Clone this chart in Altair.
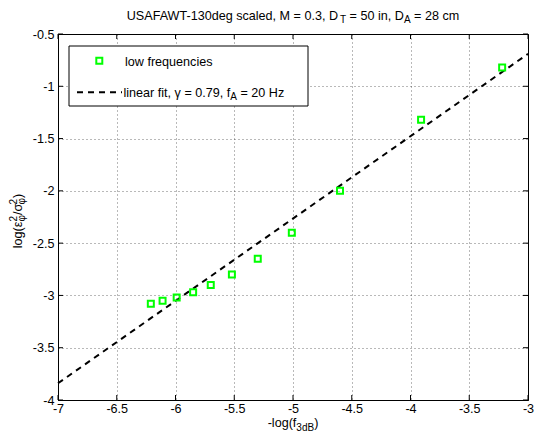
import altair as alt
import pandas as pd

# ---------------- data ----------------
x_vals = [-6.21, -6.11, -5.99, -5.85, -5.70, -5.52, -5.30, -5.01, -4.60, -3.91, -3.22]
y_vals = [-3.08, -3.05, -3.02, -2.97, -2.90, -2.80, -2.65, -2.40, -2.00, -1.32, -0.82]
fit_x = [-7.0, -3.0]
fit_y = [-3.84, -0.69]
x_ticks = [-7, -6.5, -6, -5.5, -5, -4.5, -4, -3.5, -3]
y_ticks = [-4, -3.5, -3, -2.5, -2, -1.5, -1, -0.5]

# ---------------- layout ----------------
W, H = 470, 366
LEFT, TOP = 58, 34
FONT = "Liberation Sans"
FS = 12.6
SUB = 10
TICK = 5

# Arial / Liberation Sans advance widths (per 1000 em)
CW = {' ': 278, '-': 333, ',': 278, '.': 278, '=': 584, '(': 333, ')': 333, '/': 278,
      'A': 667, 'B': 667, 'D': 722, 'F': 611, 'H': 722, 'M': 833, 'S': 667, 'T': 611,
      'U': 722, 'W': 944, 'a': 556, 'c': 500, 'd': 556, 'e': 556, 'f': 278, 'g': 556,
      'i': 222, 'l': 222, 'm': 833, 'n': 556, 'o': 556, 'q': 556, 'r': 333, 's': 500,
      't': 278, 'u': 556, 'w': 722, 'z': 500, 'y': 500,
      'γ': 500, 'ε': 450, 'σ': 570, 'φ': 650}
for d in "0123456789":
    CW[d] = 556

pts = pd.DataFrame({"x": x_vals, "y": y_vals})
fit = pd.DataFrame({"x": fit_x, "y": fit_y})
xt = pd.DataFrame({"v": x_ticks})
yt = pd.DataFrame({"v": y_ticks})
one = pd.DataFrame({"k": [0]})

xscale = alt.Scale(domain=[-7, -3], nice=False, zero=False)
yscale = alt.Scale(domain=[-4, -0.5], nice=False, zero=False)
xaxis = alt.Axis(values=x_ticks, labelExpr="datum.value + ''", title=None, grid=True,
                 ticks=False, labelFlush=False, labelOverlap=False, labelPadding=2)
yaxis = alt.Axis(values=y_ticks, labelExpr="datum.value + ''", title=None, grid=True,
                 ticks=False, labelFlush=False, labelOverlap=False, labelPadding=4)


def tw(s, size):
    return sum(CW.get(c, 556) for c in s) * size / 1000.0


def total(parts):
    return sum(max(tw(t, s) for t, s, _ in stack) for stack in parts)


def run(parts, x0, y0, angle=0):
    marks = []
    pos = 0.0
    for stack in parts:
        adv = 0.0
        for txt, size, shift in stack:
            lead = len(txt) - len(txt.lstrip(" "))
            t = txt.strip(" ")
            off = pos + lead * 278 * size / 1000.0
            if angle == 0:
                px, py = x0 + off, y0 + shift
            else:
                px, py = x0 + shift, y0 - off
            marks.append(
                alt.Chart(one).mark_text(text=t, align="left", baseline="alphabetic",
                                         font=FONT, fontSize=size, angle=angle, color="black")
                .encode(x=alt.value(px), y=alt.value(py)))
            adv = max(adv, tw(txt, size))
        pos += adv
    return marks


# ---------------- data layers ----------------
fit_line = alt.Chart(fit).mark_line(color="black", strokeDash=[6, 5], strokeWidth=2).encode(
    x=alt.X("x:Q", scale=xscale, axis=xaxis),
    y=alt.Y("y:Q", scale=yscale, axis=yaxis))

points = alt.Chart(pts).mark_point(shape="square", filled=False, color="#00ff00",
                                   strokeWidth=2, size=36, opacity=1).encode(
    x=alt.X("x:Q", scale=xscale, axis=xaxis),
    y=alt.Y("y:Q", scale=yscale, axis=yaxis))

# inward ticks (MATLAB style) on all four sides
tb = alt.Chart(xt).mark_rule(color="black", strokeWidth=1).encode(
    x=alt.X("v:Q", scale=xscale, axis=xaxis), y=alt.value(H), y2=alt.value(H - TICK))
tt = alt.Chart(xt).mark_rule(color="black", strokeWidth=1).encode(
    x=alt.X("v:Q", scale=xscale, axis=xaxis), y=alt.value(0), y2=alt.value(TICK))
tl = alt.Chart(yt).mark_rule(color="black", strokeWidth=1).encode(
    y=alt.Y("v:Q", scale=yscale, axis=yaxis), x=alt.value(0), x2=alt.value(TICK))
tr = alt.Chart(yt).mark_rule(color="black", strokeWidth=1).encode(
    y=alt.Y("v:Q", scale=yscale, axis=yaxis), x=alt.value(W), x2=alt.value(W - TICK))

# ---------------- legend ----------------
leg_box = alt.Chart(one).mark_rect(fill="white", stroke="black", strokeWidth=1).encode(
    x=alt.value(11), x2=alt.value(250), y=alt.value(12), y2=alt.value(72))
leg_pt = alt.Chart(one).mark_point(shape="square", filled=False, color="#00ff00",
                                   strokeWidth=2, size=36, opacity=1).encode(
    x=alt.value(41.3), y=alt.value(26.8))
leg_ln = alt.Chart(one).mark_rule(color="black", strokeDash=[6, 5], strokeWidth=2).encode(
    x=alt.value(19), x2=alt.value(64), y=alt.value(58.3))
leg_t1 = run([[("low frequencies", FS, 0)]], 67, 31.5)
leg_t2 = run([[("linear fit, γ = 0.79, f", FS, 0)], [("A", SUB, 3)], [(" = 20 Hz", FS, 0)]],
             65.5, 62.5)

# ---------------- title & axis labels ----------------
title_parts = [[("USAFAWT-130deg scaled, M = 0.3, D", FS, 0)], [("T", SUB, 3)],
               [(" = 50 in, D", FS, 0)], [("A", SUB, 3)], [(" = 28 cm", FS, 0)]]
title = run(title_parts, W / 2 - total(title_parts) / 2, -14)

xl_parts = [[("-log(f", FS, 0)], [("3dB", SUB, 4)], [(")", FS, 0)]]
xlab = run(xl_parts, W / 2 - total(xl_parts) / 2, 393)

yl_parts = [[("log(ε", FS, 0)], [("2", SUB, -5), ("φ", SUB, 3)], [("/σ", FS, 0)],
            [("2", SUB, -5), ("φ", SUB, 3)], [(")", FS, 0)]]
ylab = run(yl_parts, -36, 187 + total(yl_parts) / 2, angle=270)

layers = [fit_line, points, tb, tt, tl, tr, leg_box, leg_pt, leg_ln] + leg_t1 + leg_t2 + title + xlab + ylab

chart = alt.layer(*layers).properties(
    width=W, height=H,
    padding={"left": LEFT, "top": TOP, "right": 534 - LEFT - W, "bottom": 438 - TOP - H},
    autosize=alt.AutoSizeParams(type="none"),
    background="white",
).configure_view(
    stroke="black", strokeWidth=1
).configure_axis(
    domainColor="black", domainWidth=1,
    gridColor="#000000", gridDash=[1, 3], gridOpacity=0.55, gridWidth=1,
    labelFont=FONT, labelFontSize=FS, labelColor="black",
)

chart.save("out.html", embed_options={"renderer": "svg", "actions": False})
